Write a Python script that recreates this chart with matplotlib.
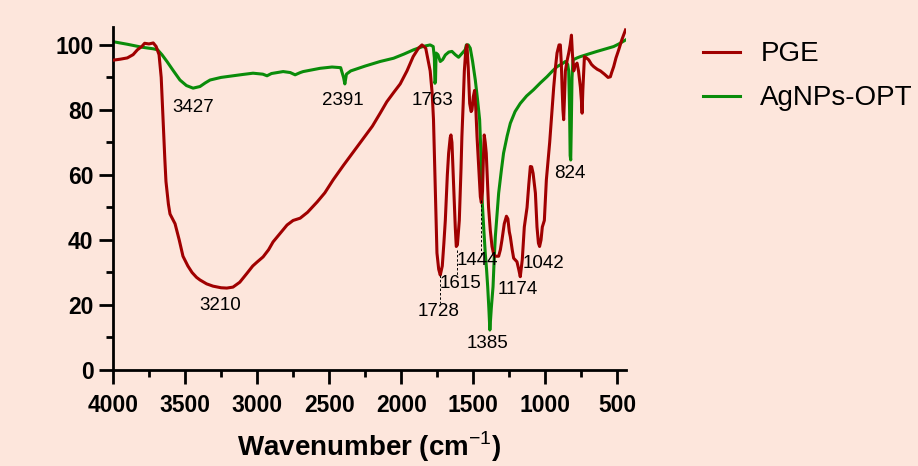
"""FTIR spectra of PGE and AgNPs-OPT, saved as out.png."""

import matplotlib

matplotlib.use("Agg")
import matplotlib.pyplot as plt  # noqa: E402
from matplotlib import font_manager  # noqa: E402
from matplotlib.ticker import MultipleLocator  # noqa: E402

BG, RED, GREEN = "#fde6dc", "#a00000", "#0a8c0a"

# PGE spectrum (wavenumber cm-1, transmittance %)
pge_wn = [4000, 3950, 3900, 3860, 3830, 3800, 3780, 3750, 3720, 3700, 3680, 3665, 3650,
          3640, 3632, 3615, 3604, 3569, 3540, 3514, 3480, 3451, 3420, 3396, 3350, 3306,
          3250, 3210, 3167, 3120, 3069, 3030, 3000, 2958, 2920, 2889, 2840, 2792, 2750,
          2701, 2650, 2583, 2530, 2472, 2400, 2300, 2200, 2146, 2100, 2050, 2007, 1960,
          1917, 1880, 1856, 1830, 1799, 1785, 1776, 1764, 1752, 1740, 1729, 1715, 1704,
          1694, 1680, 1671, 1660, 1655, 1648, 1636, 1625, 1618, 1610, 1597, 1585, 1579,
          1570, 1562, 1552, 1544, 1535, 1525, 1515, 1509, 1500, 1491, 1482, 1474, 1462,
          1451, 1444, 1436, 1430, 1424, 1417, 1410, 1402, 1394, 1382, 1370, 1358, 1347,
          1324, 1312, 1301, 1285, 1270, 1260, 1250, 1243, 1230, 1220, 1197, 1185, 1174,
          1160, 1146, 1127, 1115, 1104, 1095, 1085, 1069, 1058, 1048, 1040, 1030, 1021,
          1007, 993, 970, 942, 930, 919, 905, 896, 889, 884, 878, 873, 867, 861, 850,
          838, 828, 819, 812, 803, 795, 780, 770, 757, 750, 745, 740, 729, 715, 699,
          680, 664, 640, 618, 590, 565, 549, 540, 526, 510, 491, 470, 444]
pge_t = [95.3, 95.6, 96.0, 97.0, 98.5, 99.5, 100.5, 100.3, 100.6, 99.5, 97.0, 90.0, 75.0,
         65.0, 58.0, 51.0, 48.0, 45.0, 40.0, 35.0, 32.0, 30.0, 28.5, 27.7, 26.5, 25.8,
         25.3, 25.2, 25.5, 27.0, 29.8, 32.0, 33.2, 34.8, 37.0, 39.4, 42.0, 44.6, 46.0,
         46.7, 48.5, 51.7, 54.5, 58.5, 63.0, 69.0, 75.0, 79.0, 82.5, 85.5, 88.0, 92.0,
         96.4, 99.0, 100.0, 99.0, 92.0, 85.0, 77.0, 56.0, 36.0, 31.0, 29.2, 32.0, 39.0,
         46.0, 60.0, 66.7, 71.5, 72.3, 70.0, 56.0, 44.0, 38.0, 38.5, 46.0, 62.0, 71.8,
         82.0, 92.0, 98.5, 100.0, 93.0, 82.0, 79.5, 80.0, 84.0, 86.0, 80.0, 71.8, 62.0,
         53.3, 51.5, 55.0, 65.0, 72.3, 70.0, 66.7, 58.0, 50.0, 43.0, 38.0, 35.5, 35.0,
         35.0, 37.0, 40.0, 45.0, 47.3, 46.5, 42.5, 41.0, 37.0, 34.4, 33.3, 31.0, 28.7,
         34.0, 44.0, 50.0, 57.0, 62.6, 62.5, 60.5, 54.4, 44.0, 39.0, 38.0, 40.0, 44.0,
         46.0, 58.5, 70.0, 87.0, 93.0, 97.5, 100.0, 100.0, 94.0, 87.0, 80.0, 77.0, 84.0,
         92.0, 95.0, 97.5, 100.0, 103.0, 97.0, 92.0, 93.5, 94.4, 92.0, 87.0, 83.0, 79.0,
         86.0, 96.4, 96.0, 95.4, 94.0, 93.3, 92.5, 92.0, 91.0, 90.0, 90.2, 91.5, 93.3,
         96.0, 98.5, 101.5, 104.6]

# AgNPs-OPT spectrum
ag_wn = [4000, 3900, 3800, 3720, 3690, 3660, 3625, 3580, 3535, 3490, 3444, 3396, 3360,
         3326, 3250, 3167, 3100, 3028, 2960, 2931, 2900, 2819, 2770, 2736, 2700, 2680,
         2563, 2480, 2420, 2400, 2391, 2380, 2350, 2250, 2146, 2053, 1980, 1914, 1850,
         1799, 1778, 1770, 1766, 1762, 1758, 1745, 1729, 1712, 1694, 1670, 1648, 1625,
         1602, 1580, 1556, 1548, 1535, 1521, 1505, 1486, 1470, 1456, 1448, 1440, 1428,
         1417, 1408, 1400, 1392, 1385, 1375, 1363, 1355, 1347, 1335, 1324, 1305, 1290,
         1265, 1243, 1210, 1174, 1130, 1082, 1035, 989, 950, 919, 880, 861, 845, 838,
         832, 828, 824, 820, 815, 808, 780, 757, 700, 642, 580, 526, 490, 444]
ag_t = [101.0, 100.2, 99.3, 98.8, 98.5, 97.0, 94.9, 92.0, 89.2, 87.5, 86.7, 87.2, 88.3,
        89.2, 90.0, 90.5, 90.9, 91.3, 91.0, 90.5, 91.2, 91.8, 91.5, 90.8, 91.5, 91.8,
        92.8, 93.2, 93.0, 90.0, 88.0, 91.0, 92.0, 93.5, 94.9, 95.9, 97.2, 98.5, 99.5,
        100.0, 99.5, 96.0, 88.2, 89.0, 97.5, 97.0, 94.9, 95.5, 96.9, 97.8, 98.0, 97.0,
        96.2, 97.3, 98.5, 100.0, 100.0, 99.0, 95.0, 89.2, 83.0, 77.0, 68.0, 53.3, 44.0,
        36.0, 31.0, 25.6, 19.0, 12.3, 19.0, 25.6, 34.0, 41.0, 48.0, 54.4, 61.5, 66.7,
        72.0, 75.9, 79.5, 82.0, 84.3, 86.2, 88.3, 90.2, 92.0, 93.3, 94.3, 94.9, 94.0,
        92.0, 80.0, 66.0, 64.6, 75.0, 90.0, 95.4, 96.0, 96.4, 97.2, 98.0, 98.8, 99.5,
        100.3, 101.5]

# peak labels: text, label x, label y
peak_text = ["3427", "2391", "1763", "3210", "1728", "1615", "1444", "1385", "1174", "1042", "824"]
peak_x = [3444, 2403, 1783, 3257, 1741, 1586, 1475, 1401, 1192, 1016, 831]
peak_y = [80.9, 83.0, 83.0, 19.7, 17.9, 26.7, 33.8, 8.2, 24.8, 32.8, 60.3]
# dashed leader lines: wavenumber, top, bottom
lead_x = [1728, 1615, 1444]
lead_top = [29.2, 37.0, 52.3]
lead_bot = [20.5, 29.2, 35.0]

# a narrow face suits the squeezed peak labels; fall back to the normal one
names = {f.name for f in font_manager.fontManager.ttflist}
NARROW = "Liberation Sans Narrow" if "Liberation Sans Narrow" in names else "Liberation Sans"

plt.rcParams.update({
    "font.family": "Liberation Sans",
    "mathtext.fontset": "custom",
    "mathtext.rm": "Liberation Sans",
    "mathtext.bf": "Liberation Sans:bold",
})

fig = plt.figure(figsize=(9.18, 4.66), dpi=100, facecolor=BG)
ax = fig.add_axes([0.123, 0.206, 0.559, 0.736], facecolor=BG)

ax.plot(pge_wn, pge_t, color=RED, lw=2.2, label="PGE", zorder=3)
ax.plot(ag_wn, ag_t, color=GREEN, lw=2.2, label="AgNPs-OPT", zorder=2)

for x, top, bot in zip(lead_x, lead_top, lead_bot, strict=True):
    ax.plot([x, x], [top, bot], color="black", lw=0.7, ls=(0, (2.5, 2)), zorder=4)
for t, x, y in zip(peak_text, peak_x, peak_y, strict=True):
    ax.text(x, y, t, family=NARROW, fontsize=13.5, ha="center", va="center", zorder=5)

ax.set_xlim(4000, 440)
ax.set_ylim(0, 105.5)
ax.xaxis.set_major_locator(MultipleLocator(500))
ax.xaxis.set_minor_locator(MultipleLocator(250))
ax.yaxis.set_major_locator(MultipleLocator(20))
ax.yaxis.set_minor_locator(MultipleLocator(10))
for s in ("top", "right"):
    ax.spines[s].set_visible(False)
for s in ("left", "bottom"):
    ax.spines[s].set_linewidth(2)
ax.tick_params(which="major", length=10, width=2, labelsize=16.5)
ax.tick_params(which="minor", length=5, width=2)
ax.tick_params(axis="x", pad=7)
ax.tick_params(axis="y", pad=4)
for lbl in ax.get_xticklabels() + ax.get_yticklabels():
    lbl.set_fontweight("bold")

ax.set_xlabel(r"Wavenumber (cm$^{\mathrm{-1}}$)", fontsize=20, fontweight="bold", labelpad=9)

fig.legend(loc="upper left", bbox_to_anchor=(0.739, 0.965), frameon=False, fontsize=20,
           handlelength=1.3, handletextpad=0.75, labelspacing=0.65)

fig.savefig("out.png", dpi=100, facecolor=BG)
